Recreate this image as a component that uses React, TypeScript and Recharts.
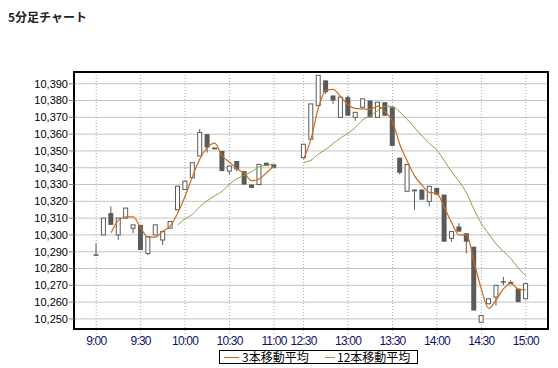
import React from 'react';
import { ComposedChart, Bar, Line, XAxis, YAxis, CartesianGrid, ReferenceArea, Legend } from 'recharts';

const times: (string | null)[] = [
  '9:00','9:05','9:10','9:15','9:20','9:25','9:30','9:35','9:40','9:45','9:50','9:55',
  '10:00','10:05','10:10','10:15','10:20','10:25','10:30','10:35','10:40','10:45','10:50','10:55','11:00',
  null, null, null,
  '12:30','12:35','12:40','12:45','12:50','12:55','13:00','13:05','13:10','13:15','13:20','13:25',
  '13:30','13:35','13:40','13:45','13:50','13:55','14:00','14:05','14:10','14:15','14:20','14:25',
  '14:30','14:35','14:40','14:45','14:50','14:55','15:00',
];

const opens: (number | null)[] = [
  10288,10300,10313,10300,10310,10304,10306,10289,10300,10297,10304,10315,10327,10334,10347,10360,10352,10350,10338,10344,10338,10330,10330,10343,10342,
  null,null,null,
  10346,10357,10377,10392,10383,10370,10382,10370,10376,10380,10370,10379,10376,10346,10326,10327,10327,10320,10328,10324,10298,10305,10301,10293,10248,10259,10263,10272,10272,10268,10262,
];
const highs: (number | null)[] = [
  10295,10310,10317,10310,10316,10306,10306,10299,10306,10302,10308,10329,10332,10343,10363,10360,10352,10350,10341,10344,10338,10330,10342,10343,10342,
  null,null,null,
  10354,10378,10395,10392,10383,10382,10383,10373,10381,10380,10379,10379,10376,10346,10342,10327,10327,10329,10328,10324,10302,10307,10301,10293,10252,10262,10270,10275,10273,10268,10271,
];
const lows: (number | null)[] = [
  10288,10300,10306,10297,10310,10301,10291,10288,10300,10294,10304,10315,10327,10334,10347,10349,10351,10338,10336,10338,10330,10328,10330,10341,10340,
  null,null,null,
  10346,10357,10377,10384,10378,10370,10371,10368,10376,10370,10370,10371,10353,10336,10326,10315,10321,10317,10324,10296,10296,10302,10289,10255,10248,10259,10258,10270,10271,10260,10262,
];
const closes: (number | null)[] = [
  10288,10310,10306,10310,10316,10306,10291,10299,10306,10302,10308,10329,10332,10343,10361,10352,10351,10338,10341,10339,10330,10328,10342,10341,10340,
  null,null,null,
  10354,10378,10395,10385,10380,10382,10371,10373,10381,10370,10379,10371,10353,10337,10342,10326,10321,10329,10324,10296,10302,10302,10296,10255,10252,10262,10270,10272,10271,10260,10271,
];
const ma3: (number | null)[] = [
  null,null,10301.3,10308.7,10310.7,10310.7,10304.3,10298.7,10298.7,10302.3,10305.3,10313,10323,10334.7,10345.3,10352,10354.7,10347,10343.3,10339.3,10336.7,10332.3,10333.3,10337,10341,
  null,null,null,
  10345,10357.3,10375.7,10386,10386.7,10382.3,10377.7,10375.3,10375,10374.7,10376.7,10373.3,10367.7,10353.7,10344,10335,10329.7,10325.3,10324.7,10316.3,10307.3,10300,10300,10284.3,10267.7,10256.3,10261.3,10268,10271,10267.7,10267.3,
];
const ma12: (number | null)[] = [
  null,null,null,null,null,null,null,null,null,null,null,10305.9,10309.6,10312.3,10316.9,10320.4,10323.3,10326,10330.2,10333.5,10335.5,10337.7,10340.5,10341.5,10342.2,
  null,null,null,
  10343.1,10344.5,10348.1,10350.9,10354.4,10357.8,10360.5,10364.1,10368.5,10370.8,10374,10376.6,10376.5,10373.1,10368.7,10363.8,10358.8,10354.4,10350.5,10344.1,10337.5,10331.8,10324.9,10315.3,10306.8,10300.6,10294.6,10290.1,10285.9,10280.2,10275.8,
];

const xTickIndex = [0, 6, 12, 18, 24, 28, 34, 40, 46, 52, 58];
const xTickLabels = ['9:00','9:30','10:00','10:30','11:00','12:30','13:00','13:30','14:00','14:30','15:00'];
const yTicks = [10250,10260,10270,10280,10290,10300,10310,10320,10330,10340,10350,10360,10370,10380,10390];
const yDomain: [number, number] = [10244, 10397];
const xDomain: [number, number] = [-3, 61];

const data = times.map((t, i) => ({
  idx: i,
  time: t,
  open: opens[i],
  high: highs[i],
  low: lows[i],
  close: closes[i],
  range: lows[i] == null ? null : [lows[i], highs[i]],
  ma3: ma3[i],
  ma12: ma12[i],
}));

const fmt = (v: number) => {
  const s = String(Math.round(v));
  return s.slice(0, s.length - 3) + ',' + s.slice(s.length - 3);
};

const CANDLE_DARK = '#5a5a5a';

const Candle = (props: any) => {
  const { x, y, width, height, payload } = props;
  if (!payload || payload.open == null) return <g />;
  const { open, close, high, low } = payload;
  const top = Math.min(y, y + height);
  const h = Math.abs(height);
  const ppu = high > low ? h / (high - low) : 0;
  const cx = x + width / 2;
  const yO = top + (high - open) * ppu;
  const yC = top + (high - close) * ppu;
  const bTop = Math.min(yO, yC);
  const bBot = Math.max(yO, yC);
  const up = close > open;
  const doji = close === open;
  return (
    <g>
      <line x1={cx} x2={cx} y1={top} y2={top + h} stroke={CANDLE_DARK} strokeWidth={1} />
      {doji ? (
        <line x1={cx - 2.5} x2={cx + 2.5} y1={bTop} y2={bTop} stroke={CANDLE_DARK} strokeWidth={1.5} />
      ) : up ? (
        <rect x={cx - 2} y={bTop} width={4} height={Math.max(bBot - bTop, 1)} fill="#ffffff" stroke={CANDLE_DARK} strokeWidth={1} />
      ) : (
        <rect x={cx - 2.5} y={bTop} width={5} height={Math.max(bBot - bTop, 1)} fill={CANDLE_DARK} stroke="none" />
      )}
    </g>
  );
};

const LegendBox = () => (
  <div
    style={{
      position: 'relative',
      width: 199,
      height: 14,
      boxSizing: 'border-box',
      border: '1px solid #000',
      background: '#fff',
      fontFamily: '"Noto Sans CJK JP", sans-serif',
      fontSize: 12,
      color: '#000',
    }}
  >
    <div style={{ position: 'absolute', left: 4, top: 6, width: 15, height: 1, background: '#cc6a1a' }} />
    <div style={{ position: 'absolute', left: 22, top: -2, lineHeight: '16px', whiteSpace: 'nowrap' }}>3本移動平均</div>
    <div style={{ position: 'absolute', left: 105, top: 6, width: 10, height: 1, background: '#8aa040' }} />
    <div style={{ position: 'absolute', left: 117, top: -2, lineHeight: '16px', whiteSpace: 'nowrap' }}>12本移動平均</div>
  </div>
);

const tickFont = '"Liberation Sans", Arial, sans-serif';

export default function App() {
  return (
    <div style={{ position: 'absolute', left: 0, top: 0, width: 558, height: 368, background: '#ffffff' }}>
      <div
        style={{
          position: 'absolute',
          left: 8,
          top: 11,
          fontFamily: '"Noto Sans CJK JP", sans-serif',
          fontWeight: 700,
          fontSize: 12,
          lineHeight: '12px',
          color: '#222',
          zIndex: 2,
        }}
      >
        5分足チャート
      </div>
      <ComposedChart width={558} height={368} data={data} margin={{ top: 72, right: 10, bottom: 0, left: 0 }}>
        <CartesianGrid vertical={false} stroke="#c4c4c4" />
        <CartesianGrid horizontal={false} stroke="#a8a8a8" strokeDasharray="1 2" />
        <XAxis
          dataKey="idx"
          type="number"
          domain={xDomain}
          allowDataOverflow
          ticks={xTickIndex}
          interval={0}
          height={39}
          tickFormatter={(v: number) => xTickLabels[xTickIndex.indexOf(v)] ?? ''}
          tick={{ fontSize: 12, fill: '#10106a', fontFamily: tickFont, letterSpacing: -0.8 }}
          tickSize={5}
          tickMargin={2}
          tickLine={{ stroke: '#a8a8a8', strokeDasharray: '1 2' }}
          axisLine={{ stroke: '#000', strokeWidth: 2 }}
        />
        <YAxis
          type="number"
          domain={yDomain}
          allowDataOverflow
          ticks={yTicks}
          interval={0}
          width={74}
          tickFormatter={fmt}
          tick={{ fontSize: 11, fill: '#000', fontFamily: tickFont }}
          tickSize={5}
          tickMargin={1}
          tickLine={{ stroke: '#808080' }}
          axisLine={{ stroke: '#000', strokeWidth: 2 }}
        />
        <ReferenceArea x1={xDomain[0]} x2={xDomain[1]} y1={yDomain[0]} y2={yDomain[1]} fill="none" stroke="#000" strokeWidth={2} strokeOpacity={1} />
        <Bar dataKey="range" barSize={5} shape={<Candle />} isAnimationActive={false} />
        <Line type="monotone" dataKey="ma12" stroke="#8aa040" strokeWidth={1} dot={false} activeDot={false} connectNulls={false} isAnimationActive={false} />
        <Line type="monotone" dataKey="ma3" stroke="#cc6a1a" strokeWidth={1.2} dot={false} activeDot={false} connectNulls={false} isAnimationActive={false} />
        <Legend
          layout="horizontal"
          verticalAlign="middle"
          align="center"
          content={<LegendBox />}
          wrapperStyle={{ position: 'absolute', left: 219, top: 350, width: 199, height: 14 }}
        />
      </ComposedChart>
    </div>
  );
}
